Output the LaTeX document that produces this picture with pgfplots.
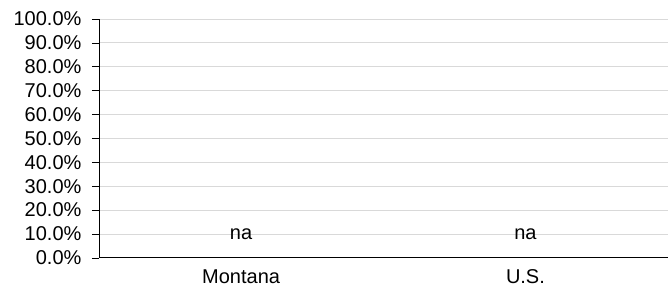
\documentclass[border=0pt]{standalone}
\usepackage{pgfplots}
\pgfplotsset{compat=1.18}
\usepackage{fontspec}
\setmainfont{Liberation Sans}
\usetikzlibrary{calc}
\definecolor{gridgray}{HTML}{D9D9D9}
\begin{document}
\begin{tikzpicture}
\begin{axis}[
  scale only axis,
  width=569pt, height=239pt,
  xmin=-0.5, xmax=1.5,
  ymin=0, ymax=100,
  axis x line*=bottom,
  axis y line*=left,
  axis line style={black, line width=0.8pt},
  ytick={0,10,...,100},
  yticklabel={\pgfmathprintnumber[fixed,fixed zerofill,precision=1]{\tick}\%},
  /pgf/number format/assume math mode=true,
  ymajorgrids,
  grid style={gridgray, line width=0.8pt},
  tick align=outside,
  major tick length=7pt,
  tick style={black, line width=0.6pt},
  y tick label style={font=\fontsize{20}{22}\selectfont, xshift=-7pt},
  xtick={0,1},
  xticklabels={Montana,U.S.},
  x tick label style={font=\fontsize{20}{22}\selectfont, yshift=-1pt},
  xtick style={draw=none},
  extra x ticks={-0.5,0.5},
  extra x tick labels={},
  extra x tick style={tick style={black, line width=0.6pt}, major tick length=6pt, xmajorgrids=false},
  clip=false,
]
\addplot[draw=none, mark=none, nodes near coords={na},
  every node near coord/.style={anchor=center, font=\fontsize{20}{22}\selectfont, text=black}]
  coordinates {(0,10) (1,10)};
\end{axis}
\path ($(current axis.south west)+(-99pt,-33pt)$) rectangle ($(current axis.north east)+(0pt,19pt)$);
\end{tikzpicture}
\end{document}
